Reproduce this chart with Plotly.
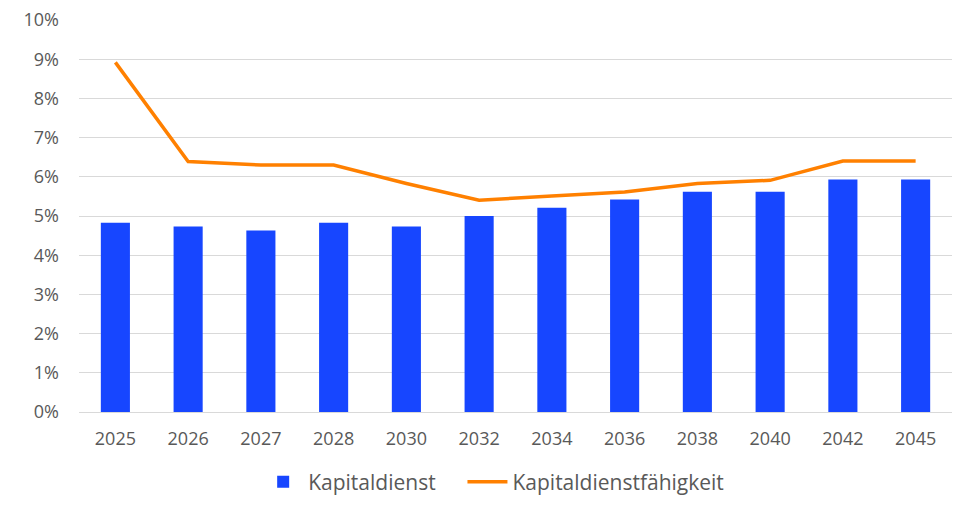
import plotly.graph_objects as go

years = ["2025", "2026", "2027", "2028", "2030", "2032", "2034", "2036", "2038", "2040", "2042", "2045"]
kapitaldienst = [4.83, 4.73, 4.63, 4.83, 4.73, 5.0, 5.21, 5.42, 5.62, 5.62, 5.93, 5.93]
faehigkeit = [8.92, 6.39, 6.30, 6.30, 5.83, 5.40, 5.51, 5.61, 5.83, 5.91, 6.40, 6.40]
y_ticks = list(range(0, 11))
y_labels = [f"{v}%" for v in y_ticks]

fig = go.Figure()
fig.add_trace(go.Bar(x=years, y=kapitaldienst, name="Kapitaldienst" + "\u00a0" * 4,
                     marker=dict(color="#1746FF", line=dict(width=0))))
fig.add_trace(go.Scatter(x=years, y=faehigkeit, name="Kapitaldienstfähigkeit",
                         mode="lines", line=dict(color="#FF8000", width=3.5)))

fig.update_layout(
    width=959, height=506,
    margin=dict(l=79, r=7, t=20, b=94, autoexpand=False),
    paper_bgcolor="white", plot_bgcolor="white",
    bargap=0.6,
    font=dict(family="Open Sans, Liberation Sans, sans-serif", color="#595959"),
    showlegend=True,
    legend=dict(orientation="h", x=0.475, xanchor="center", y=-0.179, yanchor="middle",
                font=dict(size=21, color="#595959"), traceorder="normal",
                itemwidth=40),
    xaxis=dict(type="category", showgrid=False, showline=False, ticks="",
               automargin=False, ticklabelstandoff=14,
               tickfont=dict(size=18, color="#595959")),
    yaxis=dict(range=[0, 10], tickvals=y_ticks, ticktext=y_labels,
               showgrid=True, gridcolor="#D9D9D9", gridwidth=1,
               zeroline=True, zerolinecolor="#D9D9D9", zerolinewidth=1,
               showline=False, ticks="", ticklabelstandoff=19, automargin=False,
               tickfont=dict(size=18, color="#595959")),
)
fig.write_html("out.html")
